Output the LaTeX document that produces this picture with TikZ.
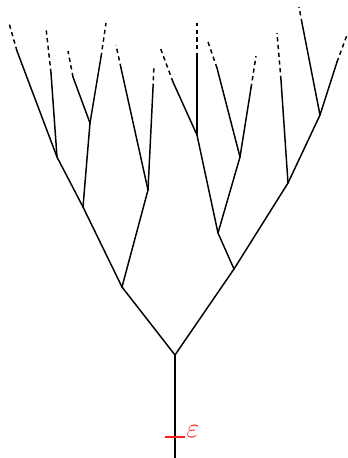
\documentclass[tikz,border=0pt]{standalone}
\usepackage{amsmath,amssymb}
\usepackage{xcolor}
\usepackage{tikz}
\usetikzlibrary{calc}
\definecolor{branchc}{HTML}{000000}
\definecolor{cutc}{HTML}{FF1A1A}
\tikzset{
  br/.style={line width=1.1pt,branchc,line cap=round},
  tail/.style={line width=1.1pt,branchc,dash pattern=on 3.2pt off 2.6pt},
  cut/.style={line width=1.1pt,cutc}
}

\begin{document}
\begin{tikzpicture}[x=0.75pt,y=-0.75pt]
\useasboundingbox (0,0) rectangle (348,458);
% branch points
\coordinate (o) at (175,458);
\coordinate (A) at (175,355);
\coordinate (L) at (122,287);
\coordinate (R) at (234,269);
\coordinate (LL) at (83,207);
\coordinate (LR) at (148,190);
\coordinate (LLL) at (57,157);
\coordinate (LLR) at (90,123);
\coordinate (RL) at (218,233);
\coordinate (RR) at (288,183);
\coordinate (RLL) at (197,135);
\coordinate (RLR) at (240,157);
\coordinate (RRR) at (320,115);
% leaves: end of solid part, then tip of dashed part
\foreach \n/\x/\y/\tx/\ty in {a1/17/51/9/23, a2/51/73/46/28, a3/73/77/68/51,
  a4/101/57/106/23, a5/121/68/116/45, a6/153/88/154/65, b1/173/82/160/47,
  b2/197/57/197/23, b3/217/68/207/39, b4/251/88/256/56, b5/281/80/277/33,
  b6/302/23/299/7, b7/337/62/347/35}{
  \coordinate (\n) at (\x,\y);
  \coordinate (\n t) at (\tx,\ty);
}
\foreach \p/\c in {o/A, A/L, A/R, L/LL, L/LR, LL/LLL, LL/LLR, R/RL, R/RR,
  RL/RLL, RL/RLR, RR/RRR, LLL/a1, LLL/a2, LLR/a3, LLR/a4, LR/a5, LR/a6,
  RLL/b1, RLL/b2, RLR/b3, RLR/b4, RR/b5, RRR/b6, RRR/b7}{
  \draw[br] (\p)--(\c);
}
\foreach \n in {a1,a2,a3,a4,a5,a6,b1,b2,b3,b4,b5,b6,b7}{
  \draw[tail] (\n)--(\n t);
}
% cut on the stem
\coordinate (cutl) at (165,437);
\coordinate (cutr) at (185,437);
\draw[cut] (cutl)--(cutr);
\node[text=cutc,font=\huge,inner sep=0pt] (eps) at (193,432) {$\varepsilon$};
\end{tikzpicture}
\end{document}
